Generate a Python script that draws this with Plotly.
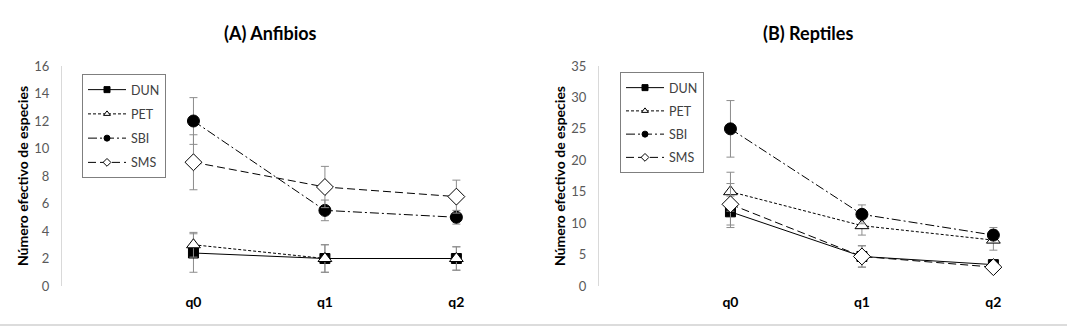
import plotly.graph_objects as go

# ---------------- data ----------------
categories = ["q0", "q1", "q2"]
series = ["DUN", "PET", "SBI", "SMS"]

anf_DUN = [2.4, 2.0, 2.0]
anf_PET = [3.0, 2.0, 2.0]
anf_SBI = [12.0, 5.5, 5.0]
anf_SMS = [9.0, 7.2, 6.5]
anf_DUN_err = [1.4, 1.0, 0.85]
anf_PET_err = [0.9, 1.0, 0.85]
anf_SBI_err = [1.7, 0.75, 0.5]
anf_SMS_err = [2.0, 1.5, 1.2]

rep_DUN = [11.8, 4.7, 3.4]
rep_PET = [15.0, 9.6, 7.3]
rep_SBI = [25.0, 11.4, 8.1]
rep_SMS = [13.0, 4.7, 3.0]
rep_DUN_err = [2.5, 1.7, 0.5]
rep_PET_err = [3.1, 1.5, 1.6]
rep_SBI_err = [4.5, 1.5, 1.2]
rep_SMS_err = [3.3, 1.7, 0.5]

anf_titles = "(A) Anfibios"
rep_titles = "(B) Reptiles"
y_title = "Número efectivo de especies"

# ---------------- styles ----------------
W, H = 1067, 331
FONT = "Lato, 'Open Sans', sans-serif"
styles = {
    "DUN": dict(dash="solid", symbol="square", fill="black"),
    "PET": dict(dash="3px,2px", symbol="triangle-up", fill="white"),
    "SBI": dict(dash="9px,3px,2px,3px", symbol="circle", fill="black"),
    "SMS": dict(dash="8px,4px", symbol="diamond", fill="white"),
}
plot_sizes = {"DUN": 10, "PET": 12, "SBI": 12, "SMS": 13}

def px_x(p):
    return p / W

def px_y(p):
    return 1 - p / H

fig = go.Figure()

panels = [
    ("x", "y", "legend", {"DUN": (anf_DUN, anf_DUN_err), "PET": (anf_PET, anf_PET_err),
                          "SBI": (anf_SBI, anf_SBI_err), "SMS": (anf_SMS, anf_SMS_err)}),
    ("x2", "y2", "legend2", {"DUN": (rep_DUN, rep_DUN_err), "PET": (rep_PET, rep_PET_err),
                             "SBI": (rep_SBI, rep_SBI_err), "SMS": (rep_SMS, rep_SMS_err)}),
]
xpos = list(range(len(categories)))

for xa, ya, lg, data in panels:
    for name in series:
        vals, errs = data[name]
        st = styles[name]
        fig.add_trace(go.Scatter(
            x=xpos, y=vals, xaxis=xa, yaxis=ya, mode="lines+markers",
            name=name, showlegend=False, hoverinfo="skip",
            line=dict(color="black", width=1, dash=st["dash"]),
            marker=dict(symbol=st["symbol"], size=plot_sizes[name], color=st["fill"],
                        line=dict(color="black", width=1)),
            error_y=dict(type="data", array=errs, visible=True, color="#8c8c8c",
                         thickness=1, width=4),
        ))
    # legend-only entries with small markers
    for name in series:
        st = styles[name]
        fig.add_trace(go.Scatter(
            x=[None], y=[None], xaxis=xa, yaxis=ya, mode="lines+markers",
            name=name, legend=lg, legendgroup=lg + name,
            line=dict(color="black", width=1, dash=st["dash"]),
            marker=dict(symbol=st["symbol"], size=6, color=st["fill"],
                        line=dict(color="black", width=1)),
        ))

top_px, bot_px = 66, 286
xdom_left = [px_x(62), px_x(530)]
xdom_right = [px_x(599), px_x(1067)]
xrange_ = [-1, 2.56]

xaxis_common = dict(range=xrange_, showline=False, showgrid=False, zeroline=False,
                    automargin=False,
                    tickmode="array", tickvals=xpos,
                    ticktext=["<b>%s</b>" % c for c in categories],
                    tickfont=dict(family=FONT, size=14, color="black"),
                    ticks="", ticklabelstandoff=6)
yaxis_common = dict(showline=True, linecolor="#d9d9d9", linewidth=1, showgrid=False,
                    zeroline=False, ticks="", ticklabelstandoff=9, automargin=False,
                    tickfont=dict(family=FONT, size=13, color="#595959"),
                    title=dict(text="<b>%s</b>" % y_title, standoff=2,
                               font=dict(family=FONT, size=14, color="black")))

fig.update_layout(
    template="none",
    width=W, height=H, margin=dict(l=0, r=0, t=0, b=0, pad=0),
    autosize=False,
    paper_bgcolor="white", plot_bgcolor="white",
    font=dict(family=FONT),
    xaxis=dict(domain=xdom_left, anchor="y", **xaxis_common),
    xaxis2=dict(domain=xdom_right, anchor="y2", **xaxis_common),
    yaxis=dict(domain=[px_y(bot_px), px_y(top_px)], anchor="x", range=[0, 16],
               tickvals=list(range(0, 17, 2)), **yaxis_common),
    yaxis2=dict(domain=[px_y(bot_px), px_y(top_px)], anchor="x2", range=[0, 35],
                tickvals=list(range(0, 36, 5)), **yaxis_common),
    legend=dict(x=px_x(82), y=px_y(74), xanchor="left", yanchor="top",
                bordercolor="#7f7f7f", borderwidth=1, bgcolor="white",
                font=dict(family=FONT, size=12.5, color="#404040"),
                itemwidth=38, tracegroupgap=5),
    legend2=dict(x=px_x(620), y=px_y(72), xanchor="left", yanchor="top",
                 bordercolor="#7f7f7f", borderwidth=1, bgcolor="white",
                 font=dict(family=FONT, size=12.5, color="#404040"),
                 itemwidth=38, tracegroupgap=4),
    annotations=[
        dict(text="<b>%s</b>" % anf_titles, x=px_x(270), y=px_y(33), xref="paper", yref="paper",
             xanchor="center", yanchor="middle",
             showarrow=False, font=dict(family=FONT, size=18, color="black")),
        dict(text="<b>%s</b>" % rep_titles, x=px_x(808), y=px_y(33), xref="paper", yref="paper",
             xanchor="center", yanchor="middle",
             showarrow=False, font=dict(family=FONT, size=18, color="black")),
    ],
    shapes=[dict(type="line", xref="paper", yref="paper", x0=0, x1=1,
                 y0=px_y(325), y1=px_y(325), line=dict(color="#d0d0d0", width=1.5))],
)

fig.write_html("out.html", config={"displayModeBar": False},
               post_script="document.body.style.margin='0';document.body.style.overflow='hidden';")
